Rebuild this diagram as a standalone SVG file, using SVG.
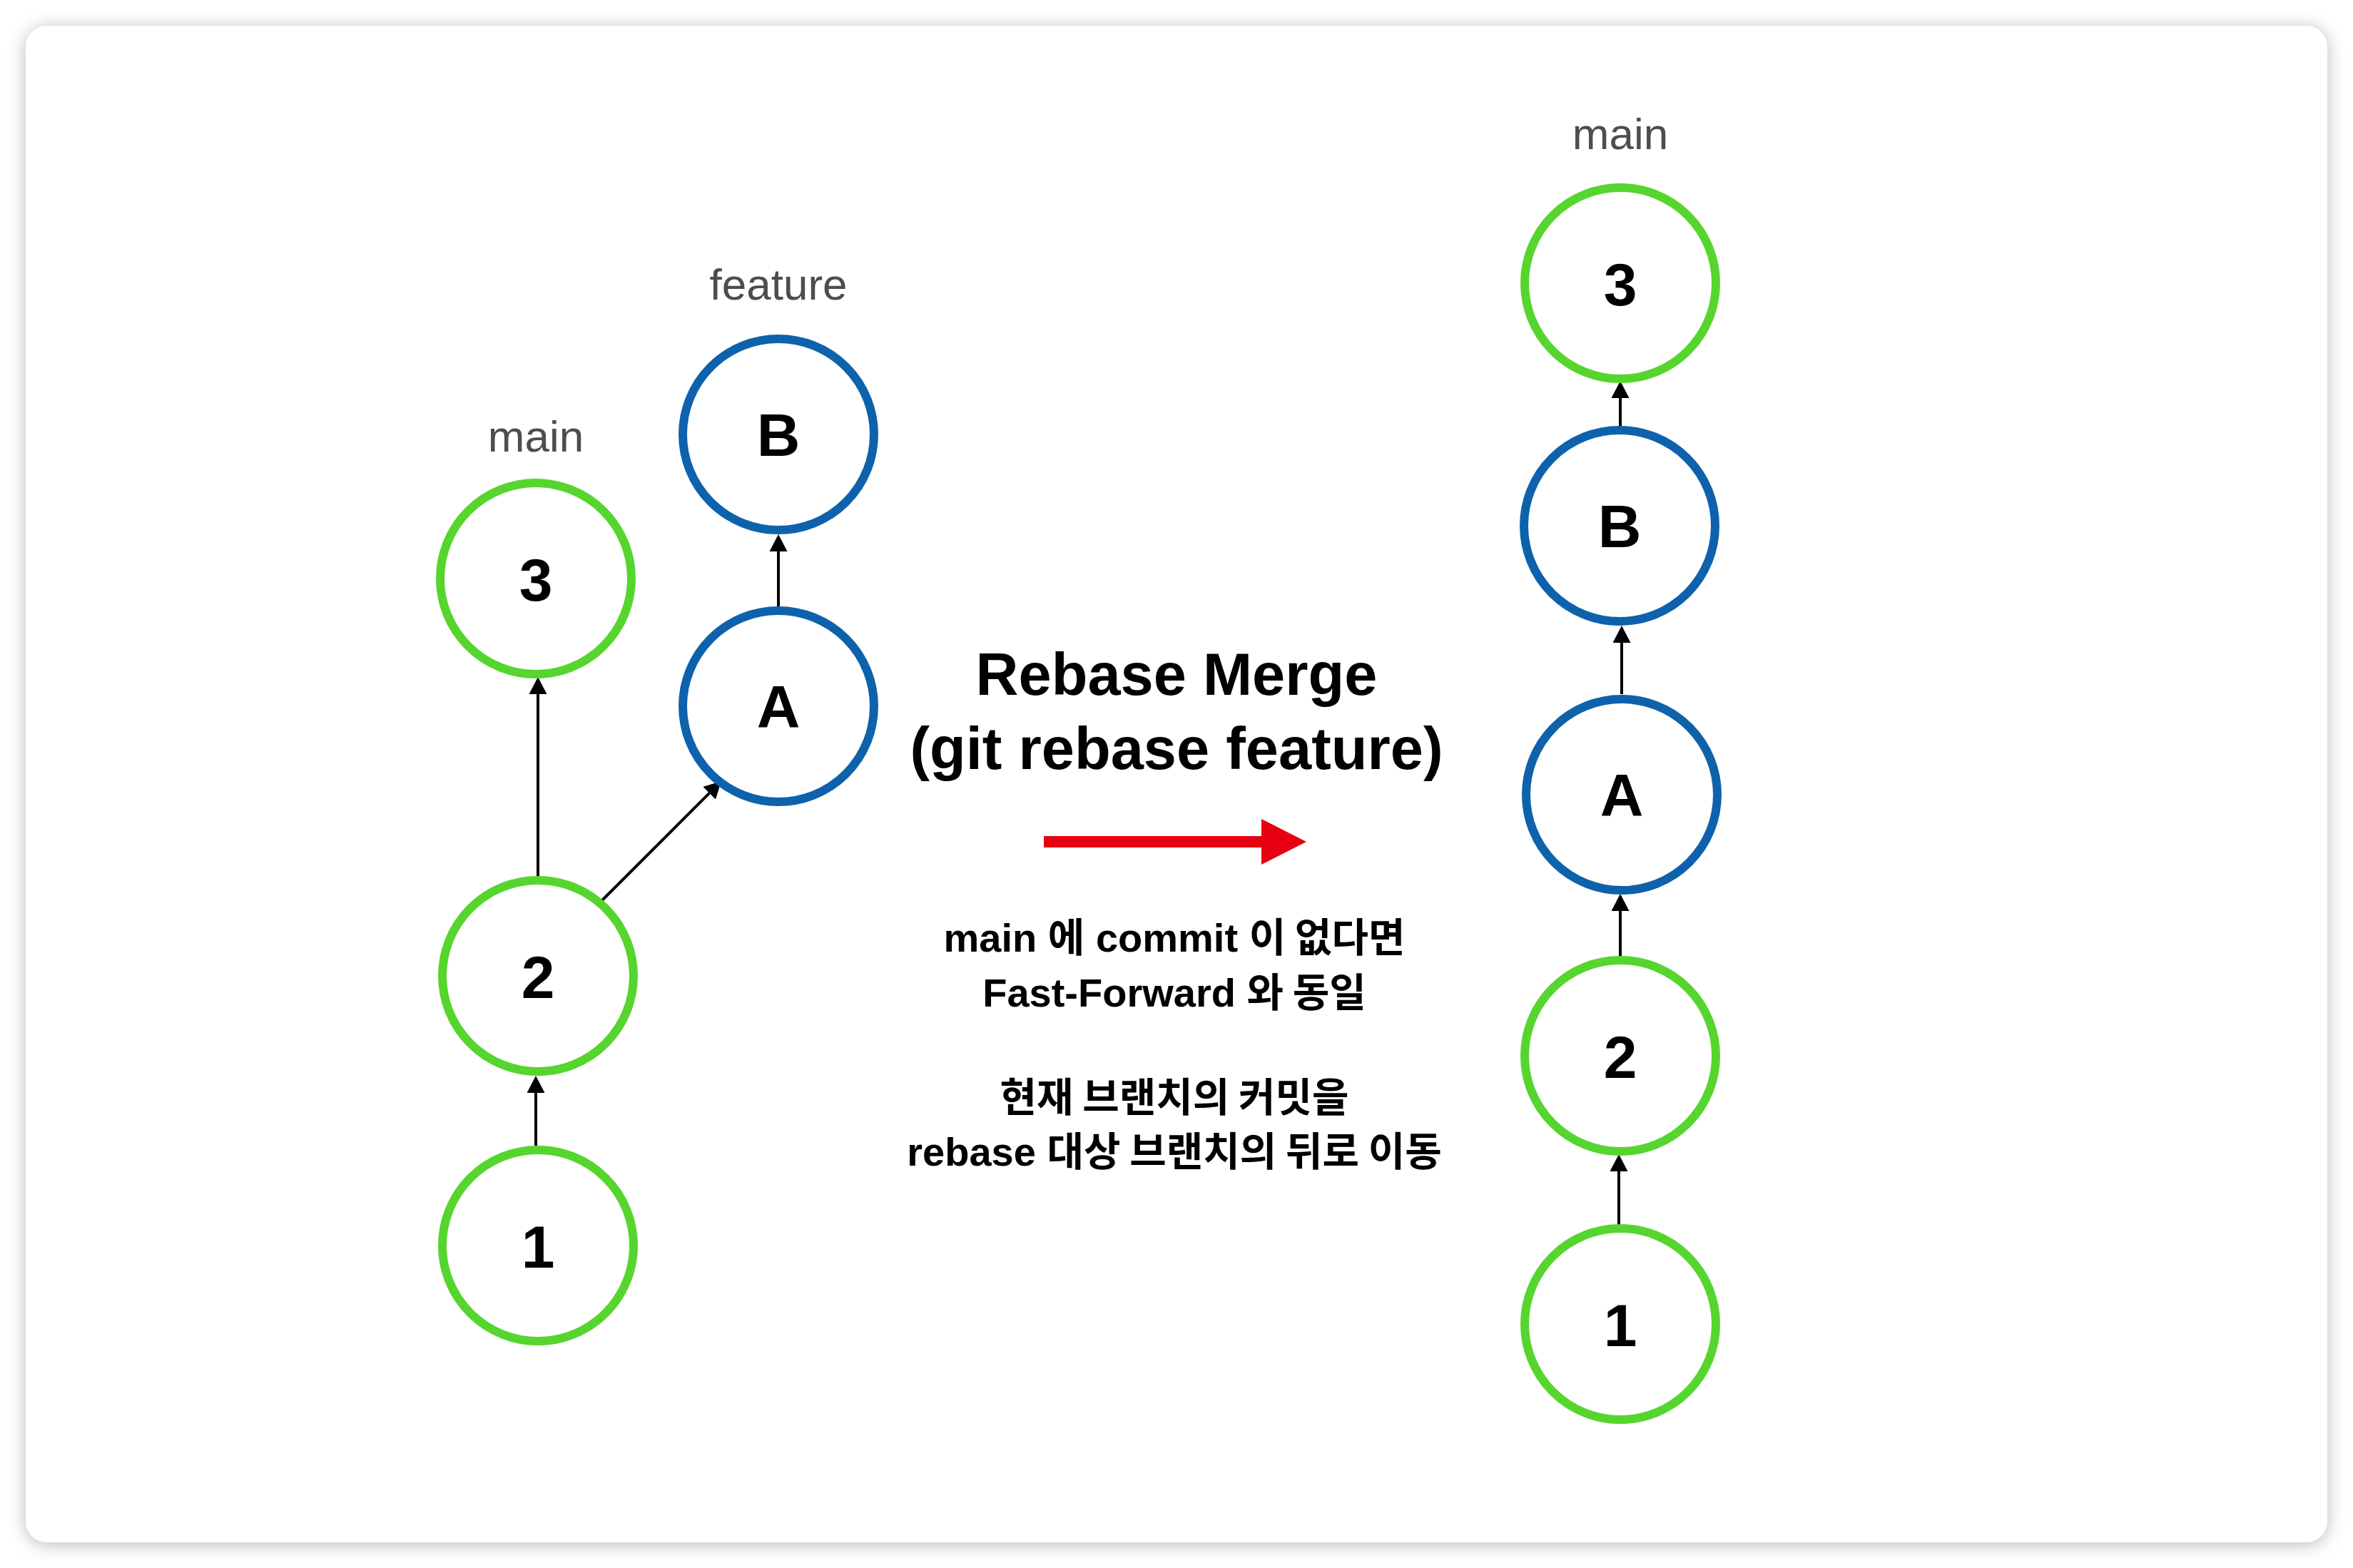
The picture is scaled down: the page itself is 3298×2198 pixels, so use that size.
<svg xmlns="http://www.w3.org/2000/svg" width="3298" height="2198" viewBox="0 0 3298 2198">
<defs>
<style>
.card{fill:#ffffff}
.green{fill:#ffffff;stroke:#56D52E;stroke-width:12}
.blue{fill:#ffffff;stroke:#0E62AC;stroke-width:12}
.num{font-family:"Liberation Sans",Arial,sans-serif;font-weight:bold;font-size:84px;text-anchor:middle;fill:#000000}
.branch{font-family:"Liberation Sans",Arial,sans-serif;font-size:62px;text-anchor:middle;fill:#4D4D4D}
.title{font-family:"Liberation Sans","Noto Sans CJK KR",sans-serif;font-weight:bold;font-size:83px;text-anchor:middle;fill:#000000}
.desc{font-family:"Liberation Sans","Noto Sans CJK KR",sans-serif;font-weight:bold;font-size:56px;text-anchor:middle;fill:#000000}
.ko{font-family:"Noto Sans CJK KR",sans-serif;font-weight:bold;font-size:56px}
.edge{stroke:#000000;stroke-width:4;fill:none;marker-end:url(#ah)}
.red{fill:#E60012}
</style>
<marker id="ah" markerUnits="userSpaceOnUse" viewBox="0 0 24 25" markerWidth="24" markerHeight="25" refX="4" refY="12.5" orient="auto">
<path d="M0,0 L24,12.5 L0,25 Z" fill="#000000"/>
</marker>
<filter id="sh" x="-3%" y="-3%" width="106%" height="106%">
<feDropShadow dx="0" dy="3" stdDeviation="12" flood-color="#000000" flood-opacity="0.28"/>
</filter>
</defs>
<rect width="3298" height="2198" fill="#ffffff"/>
<rect class="card" x="36" y="36" width="3226" height="2126" rx="30" ry="30" filter="url(#sh)"/>

<g id="connectors">
<line class="edge" x1="754" y1="1228" x2="754" y2="969"/>
<line class="edge" x1="751" y1="1606" x2="751" y2="1528"/>
<line class="edge" x1="843" y1="1263" x2="996.9" y2="1109.1"/>
<line class="edge" x1="1091" y1="850" x2="1091" y2="769"/>
<line class="edge" x1="2271" y1="598" x2="2271" y2="554"/>
<line class="edge" x1="2273" y1="973" x2="2273" y2="897"/>
<line class="edge" x1="2271" y1="1348" x2="2271" y2="1273"/>
<line class="edge" x1="2269" y1="1717" x2="2269" y2="1638"/>
</g>

<g id="label-main-left"><text class="branch" x="751" y="633">main</text></g>
<g id="label-feature"><text class="branch" x="1091" y="420">feature</text></g>
<g id="label-main-right"><text class="branch" x="2271" y="209">main</text></g>

<g id="left-node-3"><circle class="green" cx="751" cy="811" r="134"/><text class="num" x="751" y="842">3</text></g>
<g id="left-node-2"><circle class="green" cx="754" cy="1368" r="134"/><text class="num" x="754" y="1399">2</text></g>
<g id="left-node-1"><circle class="green" cx="754" cy="1746" r="134"/><text class="num" x="754" y="1777">1</text></g>
<g id="left-node-B"><circle class="blue" cx="1091" cy="609" r="134"/><text class="num" x="1091" y="639">B</text></g>
<g id="left-node-A"><circle class="blue" cx="1091" cy="990" r="134"/><text class="num" x="1091" y="1020">A</text></g>

<g id="right-node-3"><circle class="green" cx="2271" cy="397" r="134"/><text class="num" x="2271" y="428">3</text></g>
<g id="right-node-B"><circle class="blue" cx="2270" cy="737" r="134"/><text class="num" x="2270" y="767">B</text></g>
<g id="right-node-A"><circle class="blue" cx="2273" cy="1114" r="134"/><text class="num" x="2273" y="1144">A</text></g>
<g id="right-node-2"><circle class="green" cx="2271" cy="1480" r="134"/><text class="num" x="2271" y="1511">2</text></g>
<g id="right-node-1"><circle class="green" cx="2271" cy="1856" r="134"/><text class="num" x="2271" y="1887">1</text></g>

<g id="title">
<text class="title" x="1649" y="974">Rebase Merge</text>
<text class="title" x="1649" y="1078">(git rebase feature)</text>
</g>

<g id="transition-arrow">
<path class="red" d="M1463,1172 H1768 V1148 L1831,1180 L1768,1212 V1188 H1463 Z"/>
</g>

<g id="description">
<text class="desc" x="1646" y="1334">main <tspan class="ko">에</tspan> commit <tspan class="ko">이 없다면</tspan></text>
<text class="desc" x="1646" y="1411">Fast-Forward <tspan class="ko">와 동일</tspan></text>
<text class="desc" x="1646" y="1558"><tspan class="ko">현재 브랜치의 커밋을</tspan></text>
<text class="desc" x="1646" y="1634">rebase <tspan class="ko">대상 브랜치의 뒤로 이동</tspan></text>
</g>
</svg>
